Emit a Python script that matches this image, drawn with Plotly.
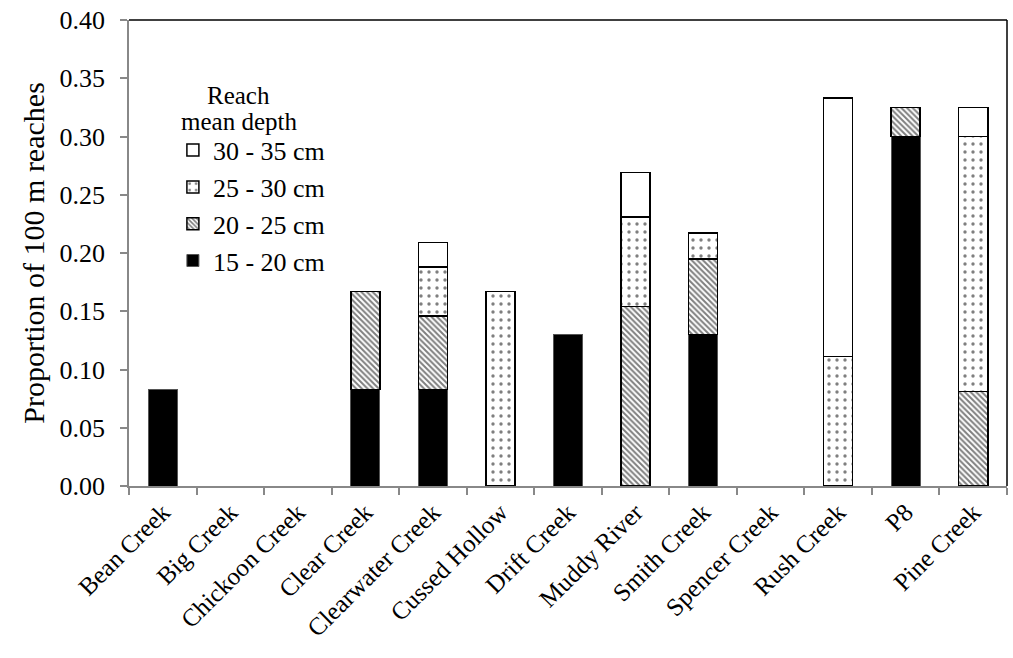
import plotly.graph_objects as go

categories = ["Bean Creek", "Big Creek", "Chickoon Creek", "Clear Creek", "Clearwater Creek",
              "Cussed Hollow", "Drift Creek", "Muddy River", "Smith Creek", "Spencer Creek",
              "Rush Creek", "P8", "Pine Creek"]
depth_15_20 = [0.083, 0, 0, 0.083, 0.083, 0, 0.130, 0, 0.130, 0, 0, 0.300, 0]
depth_20_25 = [0, 0, 0, 0.084, 0.063, 0, 0, 0.154, 0.065, 0, 0, 0.025, 0.081]
depth_25_30 = [0, 0, 0, 0, 0.042, 0.167, 0, 0.077, 0.022, 0, 0.111, 0, 0.219]
depth_30_35 = [0, 0, 0, 0, 0.021, 0, 0, 0.038, 0, 0, 0.222, 0, 0.025]
y_ticks = [0.0, 0.05, 0.10, 0.15, 0.20, 0.25, 0.30, 0.35, 0.40]
legend_title_lines = ["Reach", "mean depth"]

FONT = "Liberation Serif"

def nz(vals):
    return [v if v > 0 else None for v in vals]

fig = go.Figure()
fig.add_trace(go.Bar(
    x=categories, y=nz(depth_15_20), name="15 - 20 cm", legendrank=4,
    marker=dict(color="black", line=dict(color="#555555", width=1))))
fig.add_trace(go.Bar(
    x=categories, y=nz(depth_20_25), name="20 - 25 cm", legendrank=3,
    marker=dict(color="white", line=dict(color="black", width=1.5),
                pattern=dict(shape="\\", fgcolor="black", bgcolor="white", size=4, solidity=0.5))))
fig.add_trace(go.Bar(
    x=categories, y=nz(depth_25_30), name="25 - 30 cm", legendrank=2,
    marker=dict(color="white", line=dict(color="black", width=1.5),
                pattern=dict(shape=".", fgcolor="black", bgcolor="white", size=8, solidity=0.14))))
fig.add_trace(go.Bar(
    x=categories, y=nz(depth_30_35), name="30 - 35 cm", legendrank=1,
    marker=dict(color="white", line=dict(color="black", width=1.5))))

annotations = []
for i, line in enumerate(legend_title_lines):
    annotations.append(dict(
        text=line, xref="paper", yref="paper", x=0.125, y=0.838 - i * 0.056,
        xanchor="center", yanchor="middle", showarrow=False,
        font=dict(family=FONT, size=25, color="black")))

fig.update_layout(
    barmode="stack",
    bargap=0.57,
    width=1013, height=658,
    margin=dict(l=129, r=6, t=18, b=172),
    plot_bgcolor="white", paper_bgcolor="white",
    font=dict(family=FONT, size=24, color="black"),
    legend=dict(
        x=0.05, y=0.771, xanchor="left", yanchor="top",
        traceorder="normal",
        bgcolor="rgba(0,0,0,0)",
        font=dict(family=FONT, size=26, color="black"),
    ),
    annotations=annotations,
    xaxis=dict(
        type="category", tickson="boundaries", ticks="outside", ticklen=7,
        tickcolor="#888888", tickwidth=1.5,
        showline=True, linecolor="#888888", linewidth=1.5,
        tickangle=-45, tickfont=dict(family=FONT, size=25, color="black"),
        showgrid=False, zeroline=False,
    ),
    yaxis=dict(
        range=[0, 0.40], tickvals=y_ticks, tickformat=".2f",
        ticks="outside", ticklen=7, tickcolor="#888888", tickwidth=1.5,
        ticklabelstandoff=10,
        showline=True, linecolor="#888888", linewidth=1.5,
        showgrid=False, zeroline=False,
        tickfont=dict(family=FONT, size=26, color="black"),
        title=dict(text="Proportion of 100 m reaches", standoff=6,
                   font=dict(family=FONT, size=30, color="black")),
    ),
    shapes=[
        dict(type="line", xref="paper", yref="paper", x0=0, x1=1, y0=1, y1=1,
             line=dict(color="black", width=1.5)),
        dict(type="line", xref="paper", yref="paper", x0=1, x1=1, y0=0, y1=1,
             line=dict(color="black", width=1.5)),
    ],
)

fig.write_html("out.html")
